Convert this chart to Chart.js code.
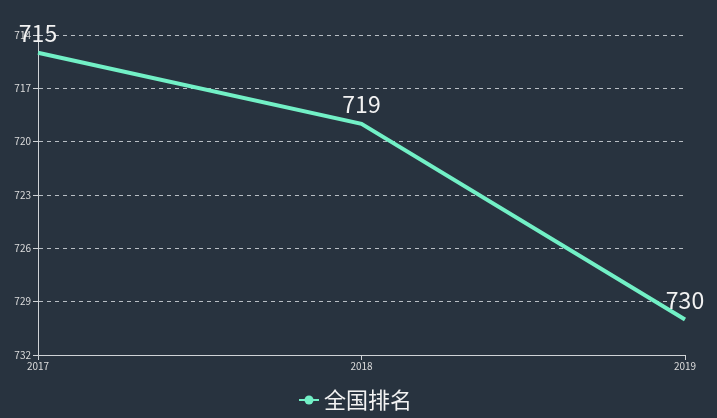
<!DOCTYPE html>
<html>
<head>
<meta charset="utf-8">
<script src="https://cdn.jsdelivr.net/npm/chart.js@4/dist/chart.umd.min.js"></script>
<style>
    html, body { margin: 0; padding: 0; background: #28333f; }
    #wrap { width: 717px; height: 418px; }
</style>
</head>
<body>
<div id="wrap"><canvas id="rankChart"></canvas></div>
<script>
const years = ['2017', '2018', '2019'];
const rankValues = [715, 719, 730];
const seriesName = '全国排名';

const lineColor = '#72f0c6';
const fontFamily = '"Noto Sans CJK SC", "Open Sans", sans-serif';

// legend marker: short line with a dot in the middle
function _legendMarker() {
    let c = document.createElement('canvas');
    c.width = 20;
    c.height = 10;
    let ctx = c.getContext('2d');
    ctx.strokeStyle = lineColor;
    ctx.lineWidth = 2;
    ctx.beginPath();
    ctx.moveTo(0, 5);
    ctx.lineTo(20, 5);
    ctx.stroke();
    ctx.fillStyle = lineColor;
    ctx.beginPath();
    ctx.arc(10, 5, 4.5, 0, Math.PI * 2);
    ctx.fill();
    return c;
}

// value labels above each point
const pointLabels = {
    id: 'pointLabels',
    afterDatasetsDraw(chart) {
        let ctx = chart.ctx;
        chart.data.datasets.forEach((ds, i) => {
            chart.getDatasetMeta(i).data.forEach((pt, j) => {
                ctx.save();
                ctx.font = '23px ' + fontFamily;
                ctx.fillStyle = '#f2f2f2';
                ctx.textAlign = 'center';
                ctx.textBaseline = 'bottom';
                ctx.fillText(ds.data[j], pt.x, pt.y - 8);
                ctx.restore();
            });
        });
    }
};

new Chart(document.getElementById('rankChart'), {
    type: 'line',
    data: {
        labels: years,
        datasets: [{
            label: seriesName,
            data: rankValues,
            borderColor: lineColor,
            backgroundColor: lineColor,
            borderWidth: 4,
            pointRadius: 0,
            pointHoverRadius: 0,
            pointStyle: _legendMarker(),
            tension: 0
        }]
    },
    options: {
        responsive: true,
        maintainAspectRatio: false,
        animation: false,
        layout: {
            padding: { top: 35, right: 0, left: 0, bottom: -3 }
        },
        scales: {
            x: {
                offset: false,
                grid: {
                    drawOnChartArea: false,
                    drawTicks: true,
                    tickLength: 5,
                    color: '#cfd3d6'
                },
                border: { color: '#cfd3d6', width: 1 },
                ticks: {
                    color: '#dcdcdc',
                    padding: 0,
                    maxRotation: 0,
                    font: { size: 10, family: fontFamily }
                }
            },
            y: {
                reverse: true,
                min: 714,
                max: 732,
                afterFit: function(scale) {
                    scale.width = 38;
                },
                ticks: {
                    stepSize: 3,
                    color: '#dcdcdc',
                    padding: 2,
                    font: { size: 10, family: fontFamily }
                },
                grid: {
                    color: '#b8bec4',
                    tickLength: 5,
                    tickColor: '#cfd3d6',
                    tickBorderDash: [],
                    drawTicks: true
                },
                border: { color: '#cfd3d6', width: 1, dash: [4, 4] }
            },
            // empty right-hand strip so the legend stays centred on the canvas
            yRight: {
                position: 'right',
                reverse: true,
                min: 714,
                max: 732,
                afterFit: function(scale) {
                    scale.width = 32;
                },
                ticks: { display: false },
                grid: { display: false },
                border: { display: false }
            }
        },
        plugins: {
            legend: {
                position: 'bottom',
                labels: {
                    usePointStyle: true,
                    pointStyleWidth: 8,
                    color: '#f2f2f2',
                    padding: 17,
                    font: { size: 22, family: fontFamily }
                }
            },
            tooltip: { enabled: false }
        }
    },
    plugins: [pointLabels]
});
</script>
</body>
</html>
